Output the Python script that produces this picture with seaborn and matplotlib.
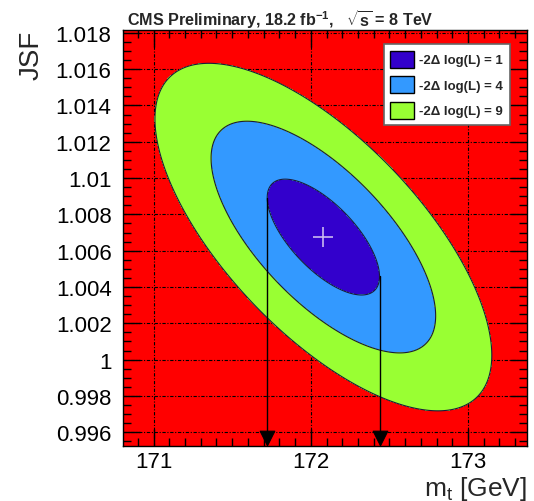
import numpy as np
import pandas as pd
import matplotlib
matplotlib.use("Agg")
import matplotlib.pyplot as plt
from matplotlib.patches import Patch
from matplotlib.ticker import MultipleLocator
import seaborn as sns

# ---- data ----
best_mt = 172.08          # GeV, best-fit top mass
best_jsf = 1.00675        # best-fit JSF
sigma_mt = 0.357          # 1-sigma width in mt
sigma_jsf = 0.00319       # 1-sigma width in JSF
rho = -0.68               # correlation
contour_levels = [1, 4, 9]
contour_labels = ["-2\u0394 log(L) = 1", "-2\u0394 log(L) = 4", "-2\u0394 log(L) = 9"]
contour_colors = ["#3300CC", "#3399FF", "#99FF33"]
arrow_y = 0.99569
x_ticks = [171, 172, 173]
y_ticks = [0.996, 0.998, 1.0, 1.002, 1.004, 1.006, 1.008, 1.01, 1.012, 1.014, 1.016, 1.018]
y_ticklabels = ["0.996", "0.998", "1", "1.002", "1.004", "1.006", "1.008", "1.01",
                "1.012", "1.014", "1.016", "1.018"]
x_lim = (170.804, 173.377)
y_lim = (0.99526, 1.01817)

sns.set_theme(style="ticks")
plt.rcParams["font.family"] = ["Liberation Sans", "DejaVu Sans"]
plt.rcParams["mathtext.fontset"] = "custom"
plt.rcParams["mathtext.rm"] = "Liberation Sans"
plt.rcParams["mathtext.bf"] = "Liberation Sans:bold"
plt.rcParams["mathtext.it"] = "Liberation Sans:italic"

fig = plt.figure(figsize=(5.34, 5.02), dpi=100)
ax = fig.add_axes([0.2298, 0.1102, 0.7577, 0.8286])
ax.set_facecolor("#FF0000")

# likelihood surface from the fitted parameters
gx = np.linspace(x_lim[0], x_lim[1], 600)
gy = np.linspace(y_lim[0], y_lim[1], 600)
X, Y = np.meshgrid(gx, gy)
dx = (X - best_mt) / sigma_mt
dy = (Y - best_jsf) / sigma_jsf
chi2 = (dx**2 - 2 * rho * dx * dy + dy**2) / (1 - rho**2)

ax.contourf(X, Y, chi2, levels=[0] + contour_levels, colors=contour_colors, zorder=1)
ax.contour(X, Y, chi2, levels=contour_levels, colors="#1a1a3a", linewidths=0.8, zorder=1.2)

# 1-sigma interval lines on mt
lo_x = best_mt - sigma_mt
hi_x = best_mt + sigma_mt
lo_top = best_jsf - rho * sigma_jsf
hi_top = best_jsf + rho * sigma_jsf
lines = pd.DataFrame({"mt": [lo_x, lo_x, hi_x, hi_x],
                      "jsf": [lo_top, arrow_y, hi_top, arrow_y],
                      "side": ["lo", "lo", "hi", "hi"]})
for side, d in lines.groupby("side"):
    sns.lineplot(data=d, x="mt", y="jsf", ax=ax, color="black", lw=1.0,
                 sort=False, estimator=None, zorder=3, legend=False)
arrows = pd.DataFrame({"mt": [lo_x, hi_x], "jsf": [arrow_y, arrow_y]})
sns.scatterplot(data=arrows, x="mt", y="jsf", ax=ax, marker="v", s=110,
                color="black", edgecolor="black", zorder=4, clip_on=False, legend=False)
best = pd.DataFrame({"mt": [best_mt], "jsf": [best_jsf]})
sns.scatterplot(data=best, x="mt", y="jsf", ax=ax, marker="+", s=220,
                color="#C8B8F0", linewidth=1.2, zorder=4, legend=False)

ax.set_xlim(*x_lim)
ax.set_ylim(*y_lim)
ax.set_xticks(x_ticks)
ax.set_xticklabels([str(t) for t in x_ticks])
ax.set_yticks(y_ticks)
ax.set_yticklabels(y_ticklabels)
ax.xaxis.set_minor_locator(MultipleLocator(0.1))
ax.yaxis.set_minor_locator(MultipleLocator(0.0005))
ax.tick_params(which="both", direction="in", top=True, right=True, colors="black",
               labelsize=16)
ax.tick_params(axis="y", which="both", pad=8)
ax.tick_params(axis="x", which="both", pad=4)
ax.tick_params(which="major", length=12, width=1.0)
ax.tick_params(which="minor", length=6, width=1.0)
ax.set_axisbelow(True)
ax.grid(True, which="major", color="black", linestyle=(0, (3, 1.5, 1, 1.5)), linewidth=0.8)
for s in ax.spines.values():
    s.set_color("black")
    s.set_linewidth(1.0)
    s.set_zorder(5)

ax.set_xlabel(r"m$_{\mathrm{t}}$ [GeV]", fontsize=19, loc="right", labelpad=1)
ax.set_ylabel("JSF", fontsize=20, loc="top", labelpad=8)

handles = [Patch(facecolor=c, edgecolor="black", linewidth=1.0) for c in contour_colors]
leg = ax.legend(handles, contour_labels, loc="upper right", bbox_to_anchor=(0.957, 0.9656),
                borderaxespad=0, frameon=True, fancybox=False, framealpha=1,
                edgecolor="#666666", prop={"weight": "bold", "size": 9.5},
                handlelength=1.8, handleheight=1.6, labelspacing=0.65,
                handletextpad=0.4, borderpad=0.5)
leg.get_frame().set_linewidth(1.2)
leg.set_zorder(6)

fig.text(0.238, 0.962, r"CMS Preliminary, 18.2 fb$^{\mathbf{-1}}$,   $\mathbf{\sqrt{s}}$ = 8 TeV",
         fontsize=11.6, fontweight="bold", ha="left", va="center")

fig.savefig("out.png", dpi=100)
